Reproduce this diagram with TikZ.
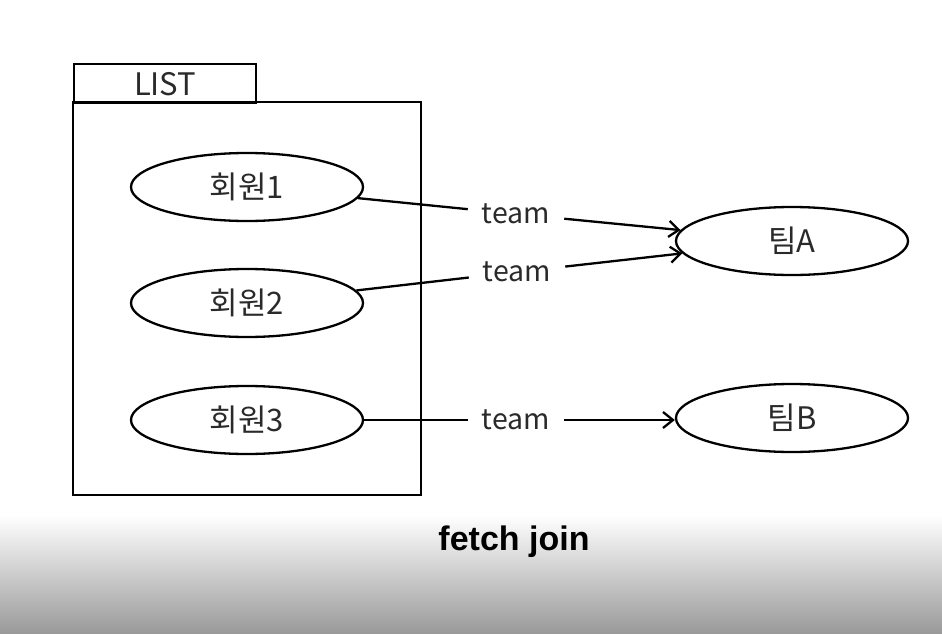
\documentclass[tikz,border=0pt]{standalone}
\usepackage{fontspec}
\setmainfont{Noto Sans CJK KR}
\newfontfamily\fjfont{Liberation Sans}
\usetikzlibrary{arrows.meta,shapes.geometric}
\definecolor{txt}{HTML}{2A2A2A}
\tikzset{
  line/.style={line width=2.3pt, black},
  ell/.style={ellipse, draw, line width=2.3pt, minimum width=232pt, minimum height=68pt, inner sep=0pt, text=txt, font=\fontsize{31}{36}\selectfont},
  lbl/.style={inner sep=14pt, text=txt, font=\fontsize{28.5}{34}\selectfont},
  arr/.style={line, -{Straight Barb[length=10pt, width=16pt, line width=2.3pt]}}
}
\begin{document}
\begin{tikzpicture}[x=1pt,y=-1pt]
\useasboundingbox (0,0) rectangle (942,634);
\shade[top color=white, bottom color=black!40] (0,515) rectangle (942,634);
% package frame
\node[draw, line width=2.3pt, minimum width=182pt, minimum height=39pt, anchor=north west, inner sep=0pt, text=txt, font=\fontsize{31}{36}\selectfont] (tab) at (73,63) {LIST};
\draw[line] (73,102) rectangle (421,495);
% members
\node[ell] (m1) at (247,187) {회원1};
\node[ell] (m2) at (247,303) {회원2};
\node[ell] (m3) at (247,420) {회원3};
% teams
\node[ell] (ta) at (792,241) {팀A};
\node[ell] (tb) at (792,418) {팀B};
% labels
\node[lbl] (t1) at (516,214) {team};
\node[lbl] (t2) at (517,272) {team};
\node[lbl] (t3) at (516,420) {team};
% connectors
\draw[line] (m1) -- (t1);
\draw[arr] (t1) -- (ta);
\draw[line] (m2) -- (t2);
\draw[arr] (t2) -- (ta);
\draw[line] (m3.east) -- (t3);
\draw[arr] (t3) -- (t3 -| tb.west);
% caption
\node[anchor=base, font=\fjfont\bfseries\fontsize{34}{40}\selectfont, text=black] (cap) at (514,550) {fetch join};
\end{tikzpicture}
\end{document}
